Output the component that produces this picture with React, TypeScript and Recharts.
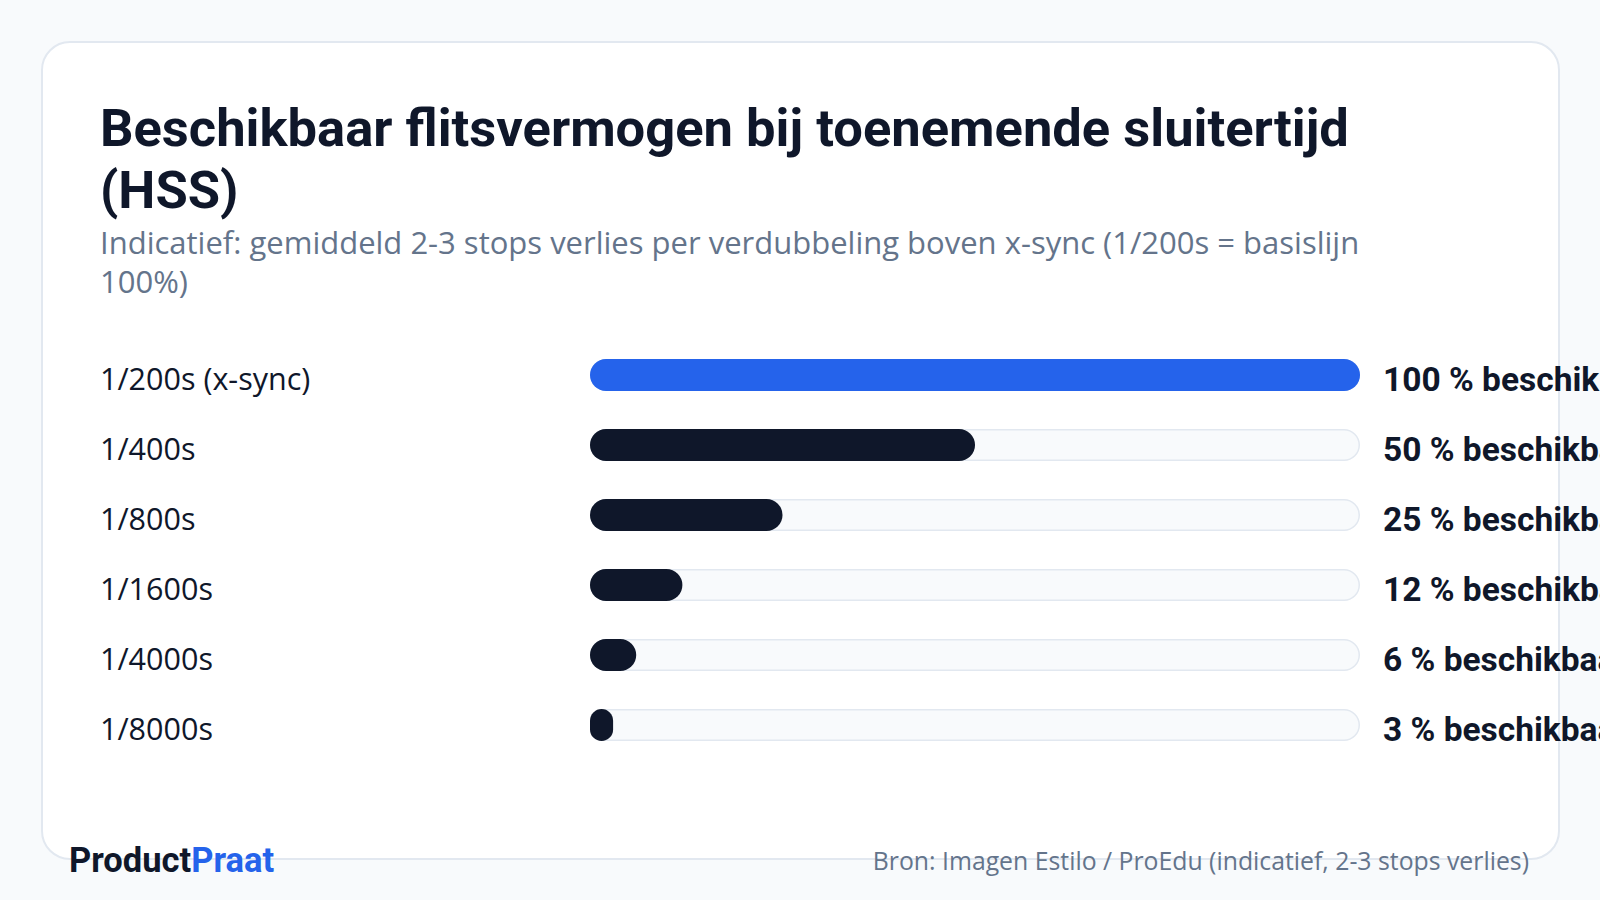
import React from 'react';
import { BarChart, Bar, XAxis, YAxis, LabelList } from 'recharts';

const shutterSpeeds = ['1/200s (x-sync)', '1/400s', '1/800s', '1/1600s', '1/4000s', '1/8000s'];
const powerPercent = [100, 50, 25, 12, 6, 3];
const valueLabels = [
  '100 % beschikbaar',
  '50 % beschikbaar',
  '25 % beschikbaar',
  '12 % beschikbaar',
  '6 % beschikbaar',
  '3 % beschikbaar',
];
const highlight = [true, false, false, false, false, false];

const BLUE = '#2563eb';
const DARK = '#0f172a';
const MUTED = '#64748b';
const BORDER = '#e2e8f0';
const BG = '#f8fafc';

const CHART_W = 1600;
const CHART_H = 420;
const MARGIN = { top: 0, right: 240, bottom: 0, left: 0 };
const Y_AXIS_W = 590;

const data = shutterSpeeds.map((speed, i) => ({
  speed,
  power: powerPercent[i],
  label: valueLabels[i],
  color: highlight[i] ? BLUE : DARK,
}));

const BarShape = (props: any) => {
  const { x, y, width, height, payload } = props;
  if (!width || width <= 0) return null;
  const r = Math.min(width, height) / 2;
  return <rect x={x} y={y} width={width} height={height} rx={r} ry={r} fill={payload?.color ?? DARK} />;
};

const TrackShape = (props: any) => {
  const { x, y, width, height } = props;
  if (width == null) return null;
  const h = height - 1.5;
  return (
    <rect
      x={x + 0.75}
      y={y + 0.75}
      width={width - 1.5}
      height={h}
      rx={h / 2}
      ry={h / 2}
      fill={BG}
      stroke={BORDER}
      strokeWidth={1.5}
    />
  );
};

const CategoryTick = (props: any) => {
  const { y, payload } = props;
  return (
    <text x={100} y={y + 14.5} fontFamily="'Open Sans'" fontWeight={500} fontSize={30.5} fill={DARK} textAnchor="start">
      {payload.value}
    </text>
  );
};

const ValueLabel = (props: any) => {
  const vb = props.viewBox || props;
  const y = vb.y;
  const h = vb.height;
  const labelX = CHART_W - MARGIN.right + 23;
  return (
    <text
      x={labelX}
      y={y + h / 2 + 16}
      fontFamily="Roboto"
      fontWeight={700}
      fontSize={33.5}
      fill={DARK}
      textAnchor="start"
    >
      {props.value}
    </text>
  );
};

export default function App() {
  return (
    <div
      style={{
        position: 'absolute',
        left: 0,
        top: 0,
        width: 1600,
        height: 900,
        overflow: 'hidden',
        background: BG,
      }}
    >
      <svg width={1600} height={900} style={{ position: 'absolute', left: 0, top: 0 }}>
        <rect x={42} y={42} width={1517} height={817} rx={28} ry={28} fill="#ffffff" stroke={BORDER} strokeWidth={2} />
      </svg>
      <div style={{ position: 'absolute', left: 0, top: 340 }}>
        <BarChart width={CHART_W} height={CHART_H} data={data} layout="vertical" margin={MARGIN}>
          <XAxis type="number" domain={[0, 100]} hide />
          <YAxis
            type="category"
            dataKey="speed"
            width={Y_AXIS_W}
            tickLine={false}
            axisLine={false}
            tick={<CategoryTick />}
            interval={0}
          />
          <Bar
            dataKey="power"
            barSize={32}
            isAnimationActive={false}
            shape={<BarShape />}
            background={<TrackShape />}
          >
            <LabelList dataKey="label" content={<ValueLabel />} />
          </Bar>
        </BarChart>
      </div>
      <svg width={1600} height={900} style={{ position: 'absolute', left: 0, top: 0, pointerEvents: 'none' }}>
        <text x={100} y={146} fontFamily="Roboto" fontWeight={700} fontSize={52.5} fill={DARK}>
          Beschikbaar flitsvermogen bij toenemende sluitertijd
        </text>
        <text x={100} y={208} fontFamily="Roboto" fontWeight={700} fontSize={52.5} fill={DARK}>
          (HSS)
        </text>
        <text x={100} y={254} fontFamily="'Open Sans'" fontWeight={500} fontSize={31} fill={MUTED}>
          Indicatief: gemiddeld 2-3 stops verlies per verdubbeling boven x-sync (1/200s = basislijn
        </text>
        <text x={100} y={293} fontFamily="'Open Sans'" fontWeight={500} fontSize={31} fill={MUTED}>
          100%)
        </text>
        <text x={69} y={872} fontFamily="Roboto" fontWeight={700} fontSize={34.5}>
          <tspan fill={DARK}>Product</tspan>
          <tspan fill={BLUE}>Praat</tspan>
        </text>
        <text x={1529} y={870} fontFamily="'Open Sans'" fontWeight={500} fontSize={24.8} fill={MUTED} textAnchor="end">
          Bron: Imagen Estilo / ProEdu (indicatief, 2-3 stops verlies)
        </text>
      </svg>
    </div>
  );
}
